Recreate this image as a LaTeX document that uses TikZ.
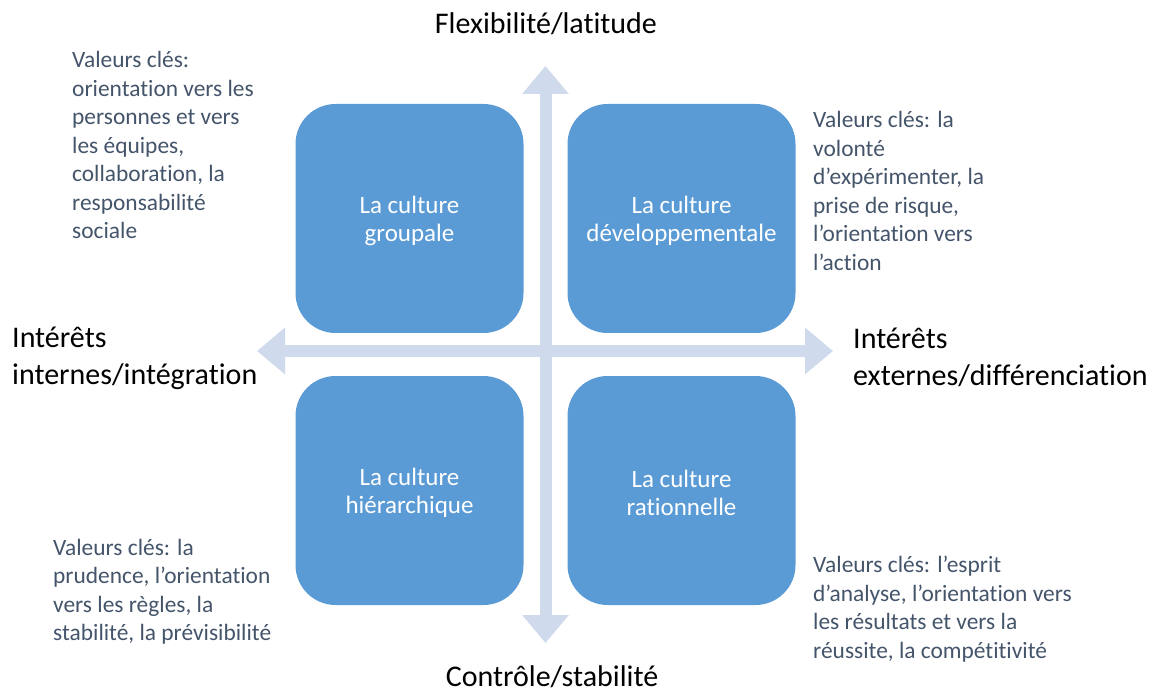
\documentclass[tikz,border=0pt]{standalone}
\usepackage{fontspec}
\setmainfont{Carlito}[Ligatures=NoCommon]
\usetikzlibrary{arrows.meta,positioning}
\definecolor{boxblue}{HTML}{5B9BD5}
\definecolor{axisblue}{HTML}{CFDAEC}
\definecolor{notegray}{HTML}{44546A}

\begin{document}
\begin{tikzpicture}[x=1pt,y=-1pt,node distance=272pt,
  culture node/.style={rounded corners=40pt,fill=boxblue,minimum width=228pt,minimum height=229pt,text=white,align=center,font=\fontsize{25}{28.5}\selectfont},
  axis/.style={axisblue,line width=12pt,{Triangle[width=45pt,length=28pt]}-{Triangle[width=45pt,length=28pt]}},
  note/.style={text=notegray,align=left,anchor=north west,inner sep=0pt,font=\fontsize{23.4}{28.5}\selectfont},
  pole/.style={inner sep=0pt,font=\fontsize{30}{37}\selectfont}]

\useasboundingbox (0,0) rectangle (1156,692);

% axes
\coordinate (up) at (545.5,66);
\coordinate (down) at (545.5,643);
\coordinate (left) at (257,351);
\coordinate (right) at (833,351);
\draw[axis] (down) -- (up);
\draw[axis] (left) -- (right);

% the four cultures
\node[culture node] (1) at (409.5,218.5) {};
\node[culture node] (2) [right of = 1] {};
\node[culture node] (3) [below of = 1] {};
\node[culture node] (4) [right of = 3] {};
\node[culture node,fill=none,yshift=-2.5pt] (t1) at (1) {La culture\\groupale};
\node[culture node,fill=none,yshift=-2.5pt] (t2) at (2) {La culture\\développementale};
\node[culture node,fill=none,yshift=-2.5pt] (t3) at (3) {La culture\\hiérarchique};
\node[culture node,fill=none,yshift=-2.5pt] (t4) at (4) {La culture\\rationnelle};

% poles
\node[pole] (flex) at (546,24) {Flexibilité/latitude};
\node[pole] (ctrl) at (552,676.5) {Contrôle/stabilité};
\node[pole,align=left,anchor=west] (int) at (12,358) {Intérêts\\internes/intégration};
\node[pole,align=left,anchor=west] (ext) at (853,357) {Intérêts\\externes/différenciation};

% key values
\node[note] (v1) at (72,51.5) {Valeurs clés:\\orientation vers les\\personnes et vers\\les équipes,\\collaboration, la\\responsabilité\\sociale};
\node[note] (v2) at (813,111.5) {Valeurs clés: la\\volonté\\d’expérimenter, la\\prise de risque,\\l’orientation vers\\l’action};
\node[note] (v3) at (53,539) {Valeurs clés: la\\prudence, l’orientation\\vers les règles, la\\stabilité, la prévisibilité};
\node[note] (v4) at (813,556) {Valeurs clés: l’esprit\\d’analyse, l’orientation vers\\les résultats et vers la\\réussite, la compétitivité};

\end{tikzpicture}
\end{document}
